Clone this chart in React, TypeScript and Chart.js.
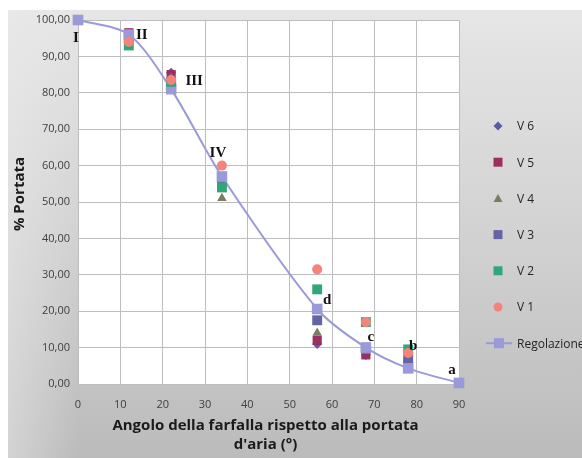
import React, { useEffect, useRef } from "react";
import { Chart, registerables } from "chart.js";

Chart.register(...registerables);

const angles = [0, 12, 22, 34, 56.5, 68, 78, 90];
const regolazione = [100, 96, 81, 57, 20.6, 10, 4.3, 0.3];
const pointLabels = ["I", "II", "III", "IV", "d", "c", "b", "a"];

const testAngles = [12, 22, 34, 56.5, 68, 78];
const v1 = [94, 83.5, 60, 31.5, 17, 8.5];
const v2 = [93, 83, 54, 26, 17, 9.5];
const v3 = [95, 82, 55.5, 17.5, 10, 6.8];
const v4 = [94.5, 84, 51, 14, 9, 7];
const v5 = [96.5, 85, 56, 12, 8, 6];
const v6 = [96, 85.5, 55, 11, 8, 6];

const yTicks = [0, 10, 20, 30, 40, 50, 60, 70, 80, 90, 100];

const toXY = (xs: number[], ys: number[]) => xs.map((x, i) => ({ x, y: ys[i] }));

export default function App() {
  const ref = useRef<HTMLCanvasElement | null>(null);

  useEffect(() => {
    if (!ref.current) return;
    const labelOffsets: [number, number][] = [
      [-2, 18], [13, 1], [23, -8], [-4, -23], [10, -9], [5, -10], [5, -22], [-7, -13],
    ];

    const bgPlugin = {
      id: "bg",
      beforeDraw(chart: any) {
        const { ctx, width, height, chartArea } = chart;
        ctx.save();
        ctx.fillStyle = "#ffffff";
        ctx.fillRect(0, 0, width, height);
        const g = ctx.createLinearGradient(0, 10, 0, height);
        g.addColorStop(0, "#e6e6e6");
        g.addColorStop(0.5, "#d2d2d2");
        g.addColorStop(1, "#bbbbbb");
        ctx.fillStyle = g;
        ctx.fillRect(8, 10, width - 8, height - 10);
        const g2 = ctx.createLinearGradient(8, 0, 78, 0);
        g2.addColorStop(0, "rgba(235,235,235,0.5)");
        g2.addColorStop(1, "rgba(235,235,235,0)");
        ctx.fillStyle = g2;
        ctx.fillRect(8, 10, 70, height - 10);
        ctx.fillStyle = "#ffffff";
        ctx.fillRect(chartArea.left, chartArea.top, chartArea.right - chartArea.left, chartArea.bottom - chartArea.top);
        ctx.restore();
      },
    };

    const drawMarker = (ctx: CanvasRenderingContext2D, style: string, x: number, y: number, r: number, fill: string) => {
      ctx.fillStyle = fill;
      ctx.beginPath();
      if (style === "rect") {
        ctx.rect(x - r, y - r, 2 * r, 2 * r);
      } else if (style === "rectRot") {
        ctx.moveTo(x, y - r);
        ctx.lineTo(x + r, y);
        ctx.lineTo(x, y + r);
        ctx.lineTo(x - r, y);
        ctx.closePath();
      } else if (style === "triangle") {
        ctx.moveTo(x, y - r);
        ctx.lineTo(x + r, y + r * 0.8);
        ctx.lineTo(x - r, y + r * 0.8);
        ctx.closePath();
      } else {
        ctx.arc(x, y, r, 0, Math.PI * 2);
      }
      ctx.fill();
    };

    const overlayPlugin = {
      id: "overlay",
      afterDraw(chart: any) {
        const { ctx, chartArea } = chart;
        const xs = chart.scales.x;
        const ys = chart.scales.y;
        ctx.save();
        // point annotations
        ctx.font = "bold 15px 'Liberation Serif'";
        ctx.fillStyle = "#111111";
        ctx.textAlign = "center";
        ctx.textBaseline = "middle";
        pointLabels.forEach((t, i) => {
          const px = xs.getPixelForValue(angles[i]) + labelOffsets[i][0];
          const py = ys.getPixelForValue(regolazione[i]) + labelOffsets[i][1];
          ctx.fillText(t, px, py);
        });
        // axis titles
        ctx.font = "bold 15px 'Open Sans'";
        ctx.fillStyle = "#1a1a1a";
        const cx = (chartArea.left + chartArea.right) / 2;
        ctx.fillText("Angolo della farfalla rispetto alla portata", cx - 3, 426);
        ctx.fillText("d'aria (°)", cx - 3, 445);
        ctx.save();
        ctx.translate(20, (chartArea.top + chartArea.bottom) / 2 - 8);
        ctx.rotate(-Math.PI / 2);
        ctx.fillText("% Portata", 0, 0);
        ctx.restore();
        // legend
        const ds = chart.data.datasets;
        ctx.font = "12px 'Open Sans'";
        ctx.textAlign = "left";
        ds.forEach((d: any, i: number) => {
          const y = 126 + i * 36.2;
          const mx = 498;
          if (d.showLine) {
            ctx.strokeStyle = d.borderColor;
            ctx.lineWidth = 2;
            ctx.beginPath();
            ctx.moveTo(486, y);
            ctx.lineTo(512, y);
            ctx.stroke();
            drawMarker(ctx, "rect", 499, y, 5, d.pointBackgroundColor);
          } else {
            drawMarker(ctx, d.pointStyle, mx, y, 4.5, d.pointBackgroundColor);
          }
          ctx.fillStyle = "#262626";
          ctx.fillText(d.label, 517, y + 1);
        });
        ctx.restore();
      },
    };

    const tickFont = { family: "'Open Sans'", size: 11 };
    const gridColor = "#bdbdbd";

    const chart = new Chart(ref.current, {
      type: "scatter",
      data: {
        datasets: [
          { label: "V 6", data: toXY(testAngles, v6), pointStyle: "rectRot", pointRadius: 5, pointHoverRadius: 5, pointBackgroundColor: "#5a5aa6", pointBorderWidth: 0, borderColor: "#5a5aa6", order: 7, clip: false } as any,
          { label: "V 5", data: toXY(testAngles, v5), pointStyle: "rect", pointRadius: 6.5, pointHoverRadius: 6.5, pointBackgroundColor: "#9a2f62", pointBorderWidth: 0, borderColor: "#9a2f62", order: 6, clip: false } as any,
          { label: "V 4", data: toXY(testAngles, v4), pointStyle: "triangle", pointRadius: 5.5, pointHoverRadius: 5.5, pointBackgroundColor: "#7b7d5f", pointBorderWidth: 0, borderColor: "#7b7d5f", order: 5, clip: false } as any,
          { label: "V 3", data: toXY(testAngles, v3), pointStyle: "rect", pointRadius: 7, pointHoverRadius: 7, pointBackgroundColor: "#6464a4", pointBorderWidth: 0, borderColor: "#6464a4", order: 4, clip: false } as any,
          { label: "V 2", data: toXY(testAngles, v2), pointStyle: "rect", pointRadius: 7, pointHoverRadius: 7, pointBackgroundColor: "#2fa77b", pointBorderWidth: 0, borderColor: "#2fa77b", order: 2, clip: false } as any,
          { label: "V 1", data: toXY(testAngles, v1), pointStyle: "circle", pointRadius: 5, pointHoverRadius: 5, pointBackgroundColor: "#f4837a", pointBorderWidth: 0, borderColor: "#f4837a", order: 1, clip: false } as any,
          { label: "Regolazione", data: toXY(angles, regolazione), showLine: true, tension: 0.3, borderWidth: 2, borderColor: "#9a9ad9", pointStyle: "rect", pointRadius: 7.5, pointHoverRadius: 7.5, pointBackgroundColor: "#9a9ad9", pointBorderWidth: 0, order: 3, clip: false } as any,
        ],
      },
      options: {
        animation: false,
        responsive: false,
        events: [],
        layout: { padding: { top: 20, right: 123, left: 0, bottom: 0 } },
        plugins: { legend: { display: false }, tooltip: { enabled: false } },
        scales: {
          x: {
            type: "linear",
            min: 0,
            max: 90,
            ticks: { stepSize: 10, padding: 14, font: tickFont, color: "#404040" },
            grid: { color: gridColor, drawTicks: false },
            border: { display: true, color: gridColor },
            afterFit: (s: any) => { s.height = 74; },
          },
          y: {
            min: 0,
            max: 100,
            afterBuildTicks: (s: any) => { s.ticks = yTicks.map((v) => ({ value: v })); },
            ticks: {
              padding: 8,
              font: tickFont,
              color: "#404040",
              callback: (v: any) => Number(v).toFixed(2).replace(".", ","),
            },
            grid: { color: gridColor, drawTicks: false },
            border: { display: true, color: gridColor },
            afterFit: (s: any) => { s.width = 78; },
          },
        },
      } as any,
      plugins: [bgPlugin, overlayPlugin],
    });
    return () => chart.destroy();
  }, []);

  return (
    <div style={{ position: "absolute", left: 0, top: 0, width: 582, height: 458 }}>
      <canvas ref={ref} width={582} height={458} style={{ display: "block" }} />
    </div>
  );
}
